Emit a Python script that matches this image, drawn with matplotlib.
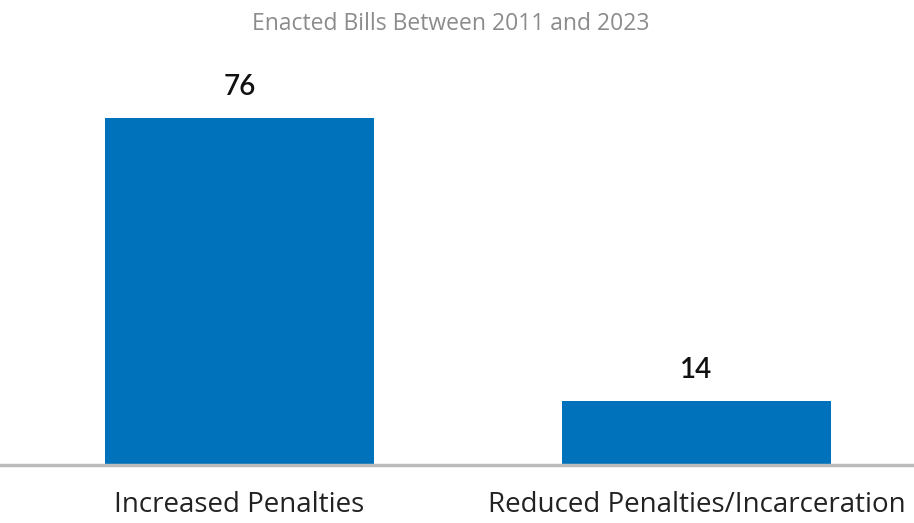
import matplotlib.pyplot as plt

categories = ["Increased Penalties", "Reduced Penalties/Incarceration"]
counts = [76, 14]
title = "Enacted Bills Between 2011 and 2023"

plt.rcParams['font.family'] = ['Open Sans', 'DejaVu Sans']

fig = plt.figure(figsize=(9.14, 5.23), dpi=100)
ax = fig.add_axes([0, 0.111, 1, 0.889])

x = range(len(categories))
ax.bar(x, counts, width=0.589, color="#0072BC")

for xi, v in zip(x, counts):
    ax.annotate(str(v), (xi, v), xytext=(0, 13), textcoords="offset points",
                ha="center", va="bottom", fontsize=20, color="#111111",
                family=['Lato', 'DejaVu Sans'], fontweight="semibold")

ax.set_xlim(-0.524, 1.476)
ax.set_ylim(0, 101.8)
ax.set_xticks(list(x))
ax.set_xticklabels(categories, fontsize=20, color="#222222")
ax.tick_params(axis="x", length=0, pad=19)
ax.set_yticks([])
for s in ["top", "left", "right"]:
    ax.spines[s].set_visible(False)
ax.spines["bottom"].set_color("#BBBBBB")
ax.spines["bottom"].set_linewidth(2.5)

fig.text(0.493, 0.955, title, ha="center", va="center", fontsize=16.5,
         color="#8c8c8c")

fig.savefig("out.png", dpi=100)
